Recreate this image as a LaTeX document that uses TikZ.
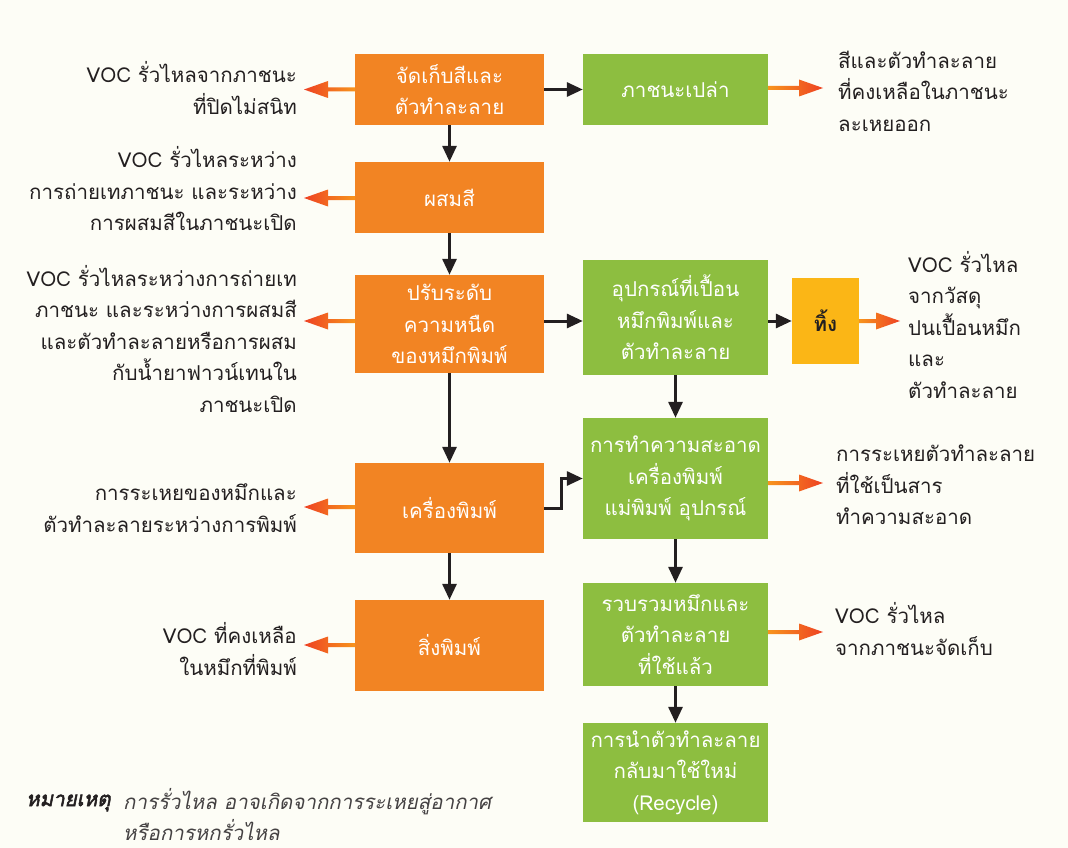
\documentclass[tikz,border=0pt]{standalone}
\usepackage{fontspec}
\setmainfont[Script=Thai]{Loma}
\newfontfamily\thaifont[Script=Thai,AutoFakeSlant=0.2]{Loma}
\newfontfamily\notebf[Script=Thai,FakeSlant=0.2,FakeBold=2.5]{Loma}
\usetikzlibrary{arrows.meta,calc}
\definecolor{bg}{HTML}{FDFDF6}
\definecolor{og}{HTML}{F28423}
\definecolor{gr}{HTML}{8DBE40}
\definecolor{yl}{HTML}{FBB616}
\definecolor{ink}{HTML}{231F20}
\definecolor{arA}{HTML}{F7941D}
\definecolor{arB}{HTML}{EE4223}
\newcommand{\lblfont}{\thaifont\fontsize{20.5}{31.5}\selectfont}
\newcommand{\garrow}[3]{%
  \shade[#1] let \p1=(#2), \p2=(#3), \n1={sign(\x2-\x1)} in
    (\x1,{\y2+2pt}) -- ({\x2-\n1*24pt},{\y2+2pt}) -- ({\x2-\n1*24pt},{\y2+8.5pt})
    -- (\x2,\y2) -- ({\x2-\n1*24pt},{\y2-8.5pt}) -- ({\x2-\n1*24pt},{\y2-2pt})
    -- (\x1,{\y2-2pt}) -- cycle;}
\tikzset{
  box/.style={inner sep=0pt, align=center, font=\lblfont, text=white},
  obox/.style={box, fill=og, minimum width=189},
  gbox/.style={box, fill=gr, minimum width=185},
  lbl/.style={font=\lblfont, text=ink, align=right, anchor=east, inner sep=0pt},
  rlbl/.style={font=\lblfont, text=ink, align=left, anchor=west, inner sep=0pt},
  flow/.style={draw=ink, line width=3pt, -{Triangle[length=16pt,width=14pt]}},
  toleft/.style={left color=arB, right color=arA},
  toright/.style={left color=arA, right color=arB},
}
\begin{document}
\begin{tikzpicture}[x=1pt,y=-1pt]
\fill[bg] (0,0) rectangle (1068,848);
\useasboundingbox (0,0) rectangle (1068,848);
% orange column
\node[obox, minimum height=71] (b1) at (449.5,89.5) {จัดเก็บสีและ\\ตัวทำละลาย};
\node[obox, minimum height=71] (b2) at (449.5,197.5) {ผสมสี};
\node[obox, minimum height=98] (b3) at (449.5,324) {ปรับระดับ\\ความหนืด\\ของหมึกพิมพ์};
\node[obox, minimum height=90] (b4) at (449.5,508) {เครื่องพิมพ์};
\node[obox, minimum height=91] (b5) at (449.5,645.5) {สิ่งพิมพ์};
% green column
\node[gbox, minimum height=71] (g1) at (675.5,89.5) {ภาชนะเปล่า};
\node[gbox, minimum height=115] (g2) at (675.5,317.5) {อุปกรณ์ที่เปื้อน\\หมึกพิมพ์และ\\ตัวทำละลาย};
\node[gbox, minimum height=121] (g3) at (675.5,478.5) {การทำความสะอาด\\เครื่องพิมพ์\\แม่พิมพ์ อุปกรณ์};
\node[gbox, minimum height=103] (g4) at (675.5,634.5) {รวบรวมหมึกและ\\ตัวทำละลาย\\ที่ใช้แล้ว};
\node[gbox, minimum height=99] (g5) at (675.5,772.5) {การนำตัวทำละลาย\\กลับมาใช้ใหม่\\(Recycle)};
\node[box, fill=yl, text=ink, minimum width=67, minimum height=86, font=\lblfont\bfseries] (y1) at (825.5,321) {ทิ้ง};
% black flows
\draw[flow] (b1) -- (b2);
\draw[flow] (b2) -- (b3);
\draw[flow] (b3) -- (b4);
\draw[flow] (b4) -- (b5);
\draw[flow] (b1.east) -- (g1.west);
\draw[flow] (b3.east |- y1) -- (g2.west |- y1);
\draw[flow] (g2.east |- y1) -- (y1.west);
\draw[flow] (g2) -- (g3);
\draw[flow] (g3) -- (g4);
\draw[flow] (g4) -- (g5);
\draw[flow] (b4.east) -- ++(17,0) |- (g3.west);
% leak labels (left)
\node[lbl] (l1) at (297,88) {VOC รั่วไหลจากภาชนะ\\ที่ปิดไม่สนิท};
\node[lbl] (l2) at (297,189) {VOC รั่วไหลระหว่าง\\การถ่ายเทภาชนะ และระหว่าง\\การผสมสีในภาชนะเปิด};
\node[lbl] (l3) at (297,339) {VOC รั่วไหลระหว่างการถ่ายเท\\ภาชนะ และระหว่างการผสมสี\\และตัวทำละลายหรือการผสม\\กับน้ำยาฟาวน์เทนใน\\ภาชนะเปิด};
\node[lbl] (l4) at (297,508) {การระเหยของหมึกและ\\ตัวทำละลายระหว่างการพิมพ์};
\node[lbl] (l5) at (297,649) {VOC ที่คงเหลือ\\ในหมึกที่พิมพ์};
% leak labels (right)
\node[rlbl] (r1) at (838,91) {สีและตัวทำละลาย\\ที่คงเหลือในภาชนะ\\ละเหยออก};
\node[rlbl] (r2) at (908,325) {VOC รั่วไหล\\จากวัสดุ\\ปนเปื้อนหมึก\\และ\\ตัวทำละลาย};
\node[rlbl] (r3) at (836,485) {การระเหยตัวทำละลาย\\ที่ใช้เป็นสาร\\ทำความสะอาด};
\node[rlbl] (r4) at (835,629) {VOC รั่วไหล\\จากภาชนะจัดเก็บ};
% tips
\coordinate (t1) at (304,89.5);
\coordinate (t2) at (304,198);
\coordinate (t4) at (304,507);
\coordinate (t5) at (304,645);
\coordinate (t3) at (304,321);
\coordinate (u1) at (823,88);
\coordinate (u2) at (900,321);
\coordinate (u3) at (823,483);
\coordinate (u4) at (823,632);
\garrow{toleft}{b1.west}{t1}
\garrow{toleft}{b2.west}{t2}
\garrow{toleft}{b3.west}{t3}
\garrow{toleft}{b4.west}{t4}
\garrow{toleft}{b5.west}{t5}
\garrow{toright}{g1.east}{u1}
\garrow{toright}{y1.east}{u2}
\garrow{toright}{g3.east}{u3}
\garrow{toright}{g4.east}{u4}
% note
\node[anchor=west, inner sep=0pt, font=\notebf\fontsize{20.5}{31.5}\selectfont, text=ink] (n1) at (26,803) {หมายเหตุ};
\node[anchor=north west, inner sep=0pt, align=left, font=\lblfont\itshape, text=ink!85] (n2) at (123,788) {การรั่วไหล อาจเกิดจากการระเหยสู่อากาศ\\หรือการหกรั่วไหล};
\end{tikzpicture}
\end{document}
